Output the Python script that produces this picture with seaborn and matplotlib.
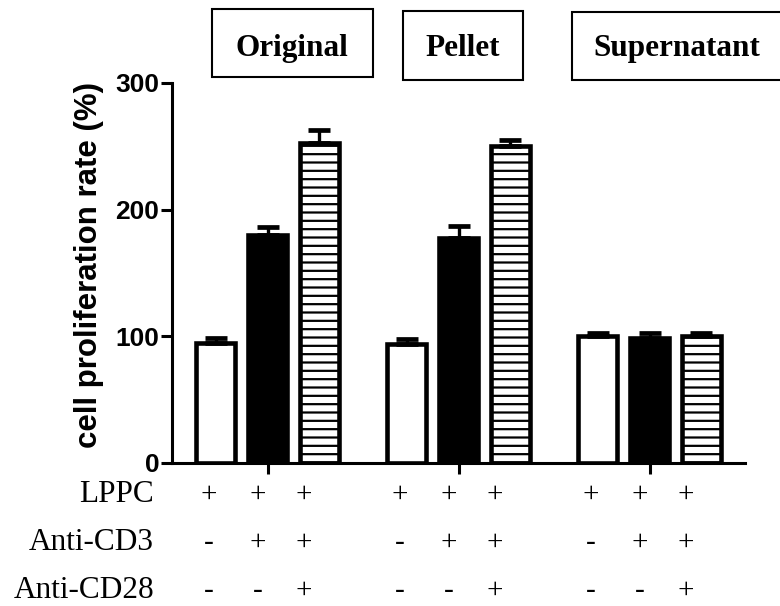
import numpy as np
import pandas as pd
import matplotlib
matplotlib.use("Agg")
import matplotlib.pyplot as plt
import matplotlib.transforms as mtransforms
from matplotlib.patches import Rectangle
import seaborn as sns

# ---- data ----
groups = ["Original", "Pellet", "Supernatant"]
treatments = ["LPPC", "LPPC + Anti-CD3", "LPPC + Anti-CD3 + Anti-CD28"]
values_lppc = [95, 94, 100]
values_cd3 = [180, 178, 99]
values_cd3_cd28 = [253, 250, 100]
err_lppc = [3.5, 4, 3]
err_cd3 = [6, 9, 4]
err_cd3_cd28 = [10, 5, 3]
yticks = [0, 100, 200, 300]
row_labels = ["LPPC", "Anti-CD3", "Anti-CD28"]
row_signs = [
    ["+", "+", "+"],
    ["-", "+", "+"],
    ["-", "-", "+"],
]

df = pd.DataFrame({
    "group": groups * 3,
    "treatment": np.repeat(treatments, len(groups)),
    "value": values_lppc + values_cd3 + values_cd3_cd28,
})

sns.set_theme(style="ticks")
plt.rcParams["hatch.linewidth"] = 1.6
plt.rcParams["font.family"] = ["Liberation Sans", "DejaVu Sans"]
plt.rcParams["text.color"] = "black"
plt.rcParams["axes.labelcolor"] = "black"
plt.rcParams["xtick.color"] = "black"
plt.rcParams["ytick.color"] = "black"

W, H = 780, 606
fig = plt.figure(figsize=(W / 100, H / 100), dpi=100)
ax = fig.add_axes([172 / W, 1 - 463 / H, (745 - 172) / W, (463 - 83) / H])

sns.barplot(data=df, x="group", y="value", hue="treatment",
            order=groups, hue_order=treatments,
            palette=["white", "black", "white"], saturation=1,
            width=0.816, gap=0.265, edgecolor="black", linewidth=3.3,
            errorbar=None, legend=False, ax=ax)

errs = [err_lppc, err_cd3, err_cd3_cd28]
hatches = [None, None, "--"]
for cont, e, h in zip(ax.containers, errs, hatches):
    xs = [b.get_x() + b.get_width() / 2 for b in cont]
    ys = [b.get_height() for b in cont]
    if h:
        for b in cont:
            b.set_hatch(h)
    ax.errorbar(xs, ys, yerr=[np.zeros(len(e)), e], fmt="none", ecolor="black",
                elinewidth=2.4, capsize=8, capthick=3.4, zorder=1)

ax.set_xlim(-0.5, 2.5)
ax.set_ylim(0, 300)
sns.despine(ax=ax)
ax.spines["left"].set_bounds(0, 300)
for s in ["left", "bottom"]:
    ax.spines[s].set_linewidth(2.2)
    ax.spines[s].set_color("black")
ax.set_yticks(yticks)
ax.set_yticklabels([str(t) for t in yticks])
ax.set_xticks(range(len(groups)))
ax.set_xticklabels([])
ax.tick_params(axis="y", length=8, width=2.2, pad=1, labelsize=19,
               colors="black", labelcolor="black")
ax.tick_params(axis="x", length=8, width=2.2, colors="black")
for lab in ax.get_yticklabels():
    lab.set_fontweight("bold")
    lab.set_color("black")
ax.set_xlabel("")
ax.set_ylabel("")

fig.text(89 / W, 1 - 265 / H, "cell proliferation rate (%)", rotation=90,
         ha="center", va="center", fontsize=22.5, fontweight="bold",
         family="Liberation Sans", color="black")

# group boxes
boxes = [(212, 373, 9, 77), (403, 523, 11, 80), (572, 790, 12, 80)]
text_cx = [292, 463, 677]
for name, (x0, x1, y0, y1), cx in zip(groups, boxes, text_cx):
    fig.add_artist(Rectangle((x0 / W, 1 - y1 / H), (x1 - x0) / W, (y1 - y0) / H,
                             transform=fig.transFigure, facecolor="white",
                             edgecolor="black", linewidth=1.5))
    fig.text(cx / W, 1 - 56 / H, name, ha="center", va="baseline",
             fontsize=22.5, fontweight="bold", family="Liberation Serif",
             color="black")

# treatment table
baselines = [502, 550, 598]
sign_offsets = [-0.31, -0.05, 0.19]
trans = mtransforms.blended_transform_factory(ax.transData, fig.transFigure)
for label, signs, yb in zip(row_labels, row_signs, baselines):
    fig.text(154 / W, 1 - yb / H, label, ha="right", va="baseline",
             fontsize=22.5, family="Liberation Serif", color="black")
    for gi in range(len(groups)):
        for off, s in zip(sign_offsets, signs):
            ax.text(gi + off, 1 - yb / H, s, transform=trans, ha="center",
                    va="baseline", fontsize=21, family="Liberation Serif",
                    color="black", clip_on=False)

fig.savefig("out.png", dpi=100)
